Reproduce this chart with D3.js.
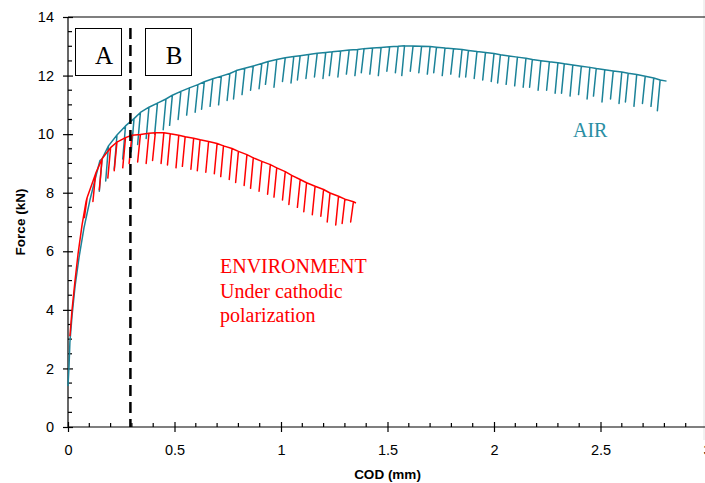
<!DOCTYPE html>
<html>
<head>
<meta charset="utf-8">
<script src="https://cdn.jsdelivr.net/npm/d3@7"></script>
<style>
  body { margin: 0; background: #fff; }
  svg { display: block; }
</style>
</head>
<body>
<div id="chart"></div>
<script>
// axis ticks
var codMajor = [0, 0.5, 1, 1.5, 2, 2.5, 3];
var codMinor = [0.1, 0.2, 0.3, 0.4, 0.6, 0.7, 0.8, 0.9, 1.1, 1.2, 1.3, 1.4, 1.6, 1.7, 1.8, 1.9,
                2.1, 2.2, 2.3, 2.4, 2.6, 2.7, 2.8, 2.9];
var forceMajor = [0, 2, 4, 6, 8, 10, 12, 14];
var forceMinor = [0.5, 1, 1.5, 2.5, 3, 3.5, 4.5, 5, 5.5, 6.5, 7, 7.5, 8.5, 9, 9.5,
                  10.5, 11, 11.5, 12.5, 13, 13.5];

// AIR curve: initial loading, then partial unloading cycles (top / bottom force)
var airLoadCod   = [0, 0.005, 0.009, 0.019, 0.033, 0.052, 0.075, 0.103, 0.127, 0.150];
var airLoadForce = [1.4, 2.1, 2.9, 3.8, 4.8, 5.8, 6.8, 7.75, 8.45, 9.1];
var airCycleCod = [0.16, 0.19, 0.23, 0.27, 0.31, 0.34, 0.38, 0.42, 0.46, 0.49,
                   0.53, 0.57, 0.61, 0.64, 0.68, 0.72, 0.76, 0.79, 0.83, 0.87,
                   0.91, 0.94, 0.98, 1.02, 1.06, 1.09, 1.13, 1.17, 1.21, 1.24,
                   1.28, 1.32, 1.36, 1.39, 1.43, 1.47, 1.51, 1.55, 1.58, 1.62,
                   1.66, 1.70, 1.73, 1.77, 1.81, 1.85, 1.88, 1.92, 1.96, 2.00,
                   2.03, 2.07, 2.11, 2.15, 2.18, 2.22, 2.26, 2.30, 2.33, 2.37,
                   2.41, 2.45, 2.48, 2.52, 2.56, 2.60, 2.63, 2.67, 2.71, 2.75,
                   2.78];
var airCycleTop = [9.16, 9.6, 9.97, 10.28, 10.53, 10.74, 10.92, 11.06, 11.2, 11.33,
                   11.46, 11.58, 11.69, 11.79, 11.89, 11.98, 12.07, 12.17, 12.25, 12.33,
                   12.41, 12.48, 12.55, 12.61, 12.65, 12.68, 12.72, 12.76, 12.79, 12.81,
                   12.84, 12.87, 12.89, 12.92, 12.94, 12.96, 12.98, 13.0, 13.02, 13.01,
                   13.0, 12.99, 12.97, 12.94, 12.92, 12.89, 12.86, 12.82, 12.79, 12.75,
                   12.71, 12.67, 12.63, 12.59, 12.55, 12.51, 12.47, 12.44, 12.40, 12.36,
                   12.32, 12.28, 12.24, 12.20, 12.16, 12.12, 12.08, 12.04, 11.98, 11.92,
                   11.85];
var airCycleLow = [8.05, 8.4, 8.8, 9.15, 9.4, 9.65, 9.85, 10.0, 10.15, 10.3,
                   10.5, 10.65, 10.75, 10.85, 10.95, 11.0, 11.15, 11.2, 11.35, 11.5,
                   11.55, 11.7, 11.6, 11.8, 11.75, 11.85, 11.9, 11.95, 11.9, 12.0,
                   11.95, 12.05, 12.0, 12.1, 12.05, 12.0, 12.15, 12.1, 12.0, 12.15,
                   12.1, 12.05, 12.1, 12.0, 12.05, 11.95, 11.95, 11.9, 11.85, 11.8,
                   11.75, 11.7, 11.65, 11.6, 11.6, 11.5, 11.5, 11.4, 11.4, 11.3,
                   11.35, 11.2, 11.3, 11.1, 11.2, 11.05, 11.1, 10.95, 11.05, 10.95,
                   10.8];
var airEnd = [2.81, 11.81];

// ENVIRONMENT curve (cathodic polarization)
var envLoadCod   = [0.009, 0.019, 0.033, 0.047, 0.066, 0.085];
var envLoadForce = [3.1, 4.0, 5.0, 5.9, 6.9, 7.7];
var envCycleCod = [0.09, 0.13, 0.16, 0.20, 0.23, 0.27, 0.30, 0.34, 0.38, 0.41,
                   0.45, 0.48, 0.52, 0.55, 0.59, 0.62, 0.66, 0.70, 0.73, 0.77,
                   0.80, 0.84, 0.87, 0.91, 0.95, 0.98, 1.02, 1.05, 1.09, 1.12,
                   1.16, 1.20, 1.23, 1.27, 1.30, 1.34];
var envCycleTop = [7.84, 8.66, 9.16, 9.54, 9.73, 9.88, 9.96, 9.99, 10.03, 10.05,
                   10.05, 10.01, 9.96, 9.91, 9.86, 9.81, 9.75, 9.68, 9.6, 9.51,
                   9.41, 9.3, 9.19, 9.07, 8.96, 8.85, 8.72, 8.59, 8.45, 8.34,
                   8.22, 8.11, 7.99, 7.88, 7.78, 7.69];
var envCycleLow = [7.15, 7.7, 8.1, 8.5, 8.75, 8.85, 9.0, 9.05, 9.0, 9.1,
                   9.0, 8.95, 8.85, 8.9, 8.8, 8.75, 8.7, 8.65, 8.55, 8.45,
                   8.35, 8.25, 8.15, 8.05, 7.95, 7.85, 7.75, 7.6, 7.5, 7.35,
                   7.25, 7.2, 7.0, 6.9, 6.95, 7.0];
var envEnd = [1.352, 7.65];

// COD shift of the unloading branch (mm), and the A/B boundary
var unloadShift = 0.013;
var boundaryCod = 0.293;

var W = 705, H = 483;
var margin = {top: 17, right: -2, bottom: 56, left: 68};
var width = W - margin.left - margin.right,
    height = H - margin.top - margin.bottom;

var svg = d3.select("#chart").append("svg")
    .attr("width", W)
    .attr("height", H);

var x = d3.scaleLinear().domain([0, 3]).range([margin.left, margin.left + width]);
var y = d3.scaleLinear().domain([0, 14]).range([margin.top + height, margin.top]);

var tealColor = "#1b8298";
var redColor = "#ff0000";

// faint outer border on the right
svg.append("line")
    .attr("x1", 704).attr("x2", 704)
    .attr("y1", 0).attr("y2", 440)
    .attr("stroke", "#e2e2e2");

// top frame line
svg.append("line")
    .attr("x1", x(0)).attr("x2", W)
    .attr("y1", y(14)).attr("y2", y(14))
    .attr("stroke", "#000").attr("stroke-width", 1.2);

// x axis
var xAxis = svg.append("g")
    .attr("transform", "translate(0," + y(0) + ")")
    .call(d3.axisBottom(x).tickValues(codMajor).tickSize(5).tickPadding(13)
          .tickFormat(d3.format("")));
xAxis.select(".domain").attr("d", "M" + x(0) + ",0H" + W).attr("stroke-width", 1.2);
xAxis.selectAll(".tick line").attr("y1", -5).attr("y2", 5).attr("stroke-width", 1.2);
xAxis.selectAll(".tick text")
    .style("font-family", "'Liberation Sans', Arial, sans-serif")
    .style("font-size", "14.5px")
    .attr("fill", "#000");
xAxis.selectAll(".minor")
    .data(codMinor)
    .enter().append("line")
    .attr("x1", d => x(d)).attr("x2", d => x(d))
    .attr("y1", 0).attr("y2", -4)
    .attr("stroke", "#000").attr("stroke-width", 1.2);

// y axis
var yAxis = svg.append("g")
    .attr("transform", "translate(" + x(0) + ",0)")
    .call(d3.axisLeft(y).tickValues(forceMajor).tickSize(5).tickPadding(9));
yAxis.select(".domain").attr("d", "M0," + y(0) + "V" + y(14)).attr("stroke-width", 1.2);
yAxis.selectAll(".tick line").attr("x1", -5).attr("x2", 5).attr("stroke-width", 1.2);
yAxis.selectAll(".tick text")
    .style("font-family", "'Liberation Sans', Arial, sans-serif")
    .style("font-size", "14.5px")
    .attr("fill", "#000");
yAxis.selectAll(".minor")
    .data(forceMinor)
    .enter().append("line")
    .attr("y1", d => y(d)).attr("y2", d => y(d))
    .attr("x1", 0).attr("x2", 4)
    .attr("stroke", "#000").attr("stroke-width", 1.2);

// axis titles
svg.append("text")
    .attr("x", x(1.5))
    .attr("y", 479)
    .attr("text-anchor", "middle")
    .style("font-family", "'Liberation Sans', Arial, sans-serif")
    .style("font-weight", "bold")
    .style("font-size", "13.5px")
    .text("COD (mm)");

svg.append("text")
    .attr("transform", "translate(25," + y(7) + ") rotate(-90)")
    .attr("text-anchor", "middle")
    .style("font-family", "'Liberation Sans', Arial, sans-serif")
    .style("font-weight", "bold")
    .style("font-size", "13.5px")
    .text("Force (kN)");

// build the sawtooth path: loading, then each unloading/reloading cycle
function curvePoints(loadCod, loadForce, cycCod, cycTop, cycLow, end) {
    var pts = loadCod.map((c, i) => [c, loadForce[i]]);
    cycCod.forEach((c, i) => {
        pts.push([c, cycTop[i]]);
        pts.push([c - unloadShift, cycLow[i]]);
        pts.push([c, cycTop[i]]);
    });
    pts.push(end);
    return pts;
}

var line = d3.line()
    .x(d => x(d[0]))
    .y(d => y(d[1]));

svg.append("path")
    .datum(curvePoints(airLoadCod, airLoadForce, airCycleCod, airCycleTop, airCycleLow, airEnd))
    .attr("d", line)
    .attr("fill", "none")
    .attr("stroke", tealColor)
    .attr("stroke-width", 1.5)
    .attr("stroke-linejoin", "round");

svg.append("path")
    .datum(curvePoints(envLoadCod, envLoadForce, envCycleCod, envCycleTop, envCycleLow, envEnd))
    .attr("d", line)
    .attr("fill", "none")
    .attr("stroke", redColor)
    .attr("stroke-width", 1.5)
    .attr("stroke-linejoin", "round");

// A / B boundary
svg.append("line")
    .attr("x1", x(boundaryCod)).attr("x2", x(boundaryCod))
    .attr("y1", 28).attr("y2", y(0))
    .attr("stroke", "#000")
    .attr("stroke-width", 2.5)
    .attr("stroke-dasharray", "11,6");

// zone boxes
var zones = [{label: "A", x0: 75, tx: 104}, {label: "B", x0: 145, tx: 174}];
zones.forEach(z => {
    svg.append("rect")
        .attr("x", z.x0 + 0.5).attr("y", 28.5)
        .attr("width", 46).attr("height", 47)
        .attr("fill", "#fff")
        .attr("stroke", "#000").attr("stroke-width", 1);
    svg.append("text")
        .attr("x", z.tx).attr("y", 64)
        .attr("text-anchor", "middle")
        .style("font-family", "'Liberation Serif', 'Times New Roman', serif")
        .style("font-size", "25px")
        .text(z.label);
});

// curve labels
svg.append("text")
    .attr("x", 573).attr("y", 137)
    .style("font-family", "'Liberation Serif', 'Times New Roman', serif")
    .style("font-size", "20px")
    .attr("fill", "#2a8ea3")
    .text("AIR");

var envLines = ["ENVIRONMENT", "Under cathodic", "polarization"];
svg.append("text")
    .attr("x", 220).attr("y", 273)
    .style("font-family", "'Liberation Serif', 'Times New Roman', serif")
    .style("font-size", "20px")
    .attr("fill", redColor)
    .selectAll("tspan")
    .data(envLines)
    .enter().append("tspan")
    .attr("x", 220)
    .attr("dy", (d, i) => i === 0 ? 0 : 24.5)
    .text(d => d);
</script>
</body>
</html>
